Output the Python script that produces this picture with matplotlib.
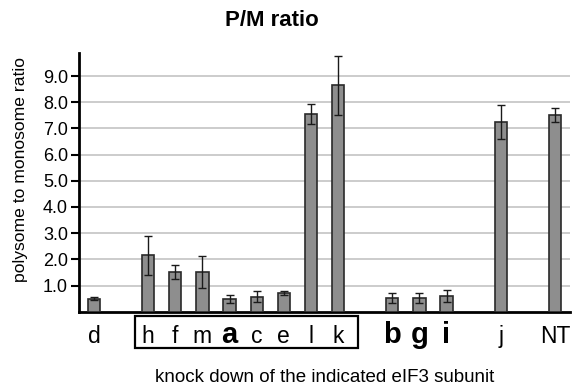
import matplotlib.pyplot as plt
from matplotlib.patches import Rectangle

plt.rcParams["font.family"] = ["Liberation Sans", "DejaVu Sans"]

# slot positions along x (empty slots between groups)
positions = [0, 2, 3, 4, 5, 6, 7, 8, 9, 11, 12, 13, 15, 17]
labels = ["d", "h", "f", "m", "a", "c", "e", "l", "k", "b", "g", "i", "j", "NT"]
values = [0.50, 2.15, 1.52, 1.52, 0.50, 0.58, 0.72, 7.55, 8.65, 0.52, 0.52, 0.60, 7.25, 7.52]
errors = [0.06, 0.75, 0.27, 0.60, 0.15, 0.20, 0.09, 0.38, 1.12, 0.20, 0.20, 0.23, 0.65, 0.27]
bold_labels = {"a", "b", "g", "i"}
yticks = [1, 2, 3, 4, 5, 6, 7, 8, 9]

fig = plt.figure(figsize=(5.74, 3.88), dpi=100)
ax = fig.add_axes([0.1376, 0.1966, 0.8554, 0.6668])

ax.bar(positions, values, width=0.45, color="#8e8e8e", edgecolor="#2a2a2a",
       linewidth=1.2, zorder=3)
ax.errorbar(positions, values, yerr=errors, fmt="none", ecolor="#1a1a1a",
            elinewidth=1.0, capsize=3, capthick=1.0, zorder=4)

ax.set_xlim(-0.55, 17.55)
ax.set_ylim(0, 9.88)
ax.set_yticks(yticks)
ax.set_yticklabels([f"{v:.1f}" for v in yticks], fontsize=13)
ax.grid(axis="y", color="#c8c8c8", linewidth=1.3, zorder=0)
ax.tick_params(axis="y", direction="out", length=6, width=1.5, pad=2)
ax.set_xticks([])

for side in ("top", "right"):
    ax.spines[side].set_visible(False)
ax.spines["left"].set_linewidth(2)
ax.spines["bottom"].set_linewidth(2)

for x, lab in zip(positions, labels):
    if lab in bold_labels:
        ax.text(x, -1.21, lab, ha="center", va="baseline", fontsize=21,
                fontweight="bold", clip_on=False)
    else:
        ax.text(x, -1.21, lab, ha="center", va="baseline", fontsize=16.5,
                clip_on=False)

box = Rectangle((1.51, -1.39), 9.74 - 1.51, 1.39 - 0.165, fill=False,
                edgecolor="black", linewidth=1.6, clip_on=False)
ax.add_patch(box)

ax.set_ylabel("polysome to monosome ratio", fontsize=12.6)
ax.yaxis.set_label_coords(-0.103, 0.55)

fig.text(272 / 574, 1 - 20 / 388, "P/M ratio", ha="center", va="center",
         fontsize=16, fontweight="bold")
fig.text(325 / 574, 1 - 378 / 388, "knock down of the indicated eIF3 subunit",
         ha="center", va="center", fontsize=13.5)

fig.savefig("out.png", dpi=100)
